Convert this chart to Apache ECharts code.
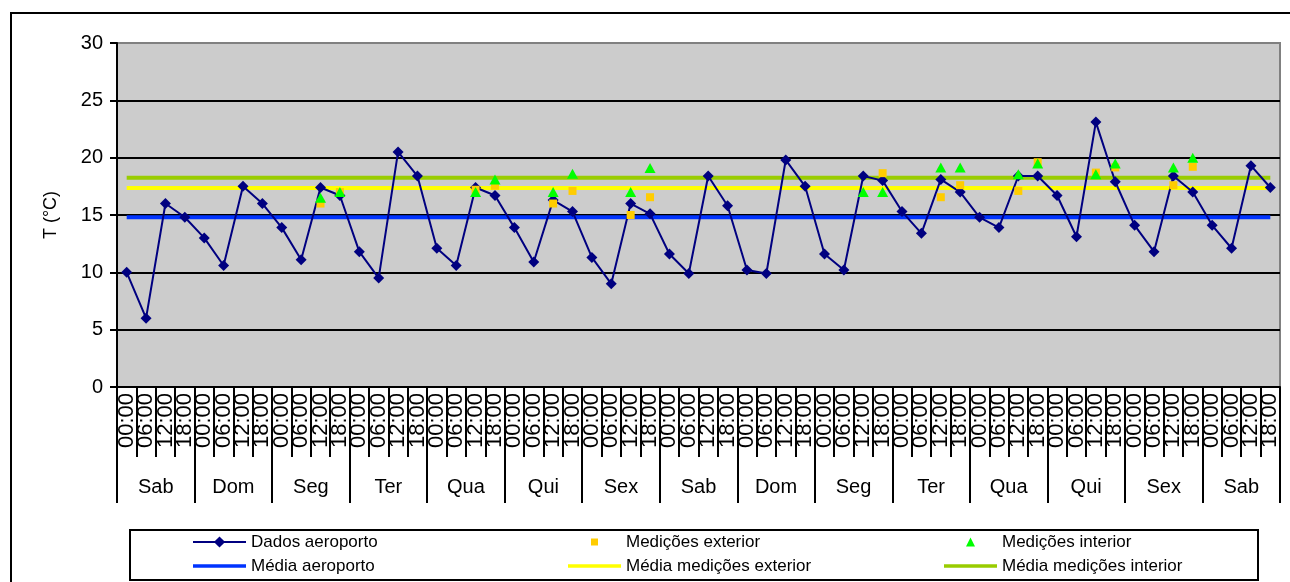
<!DOCTYPE html>
<html><head><meta charset="utf-8">
<script src="https://cdn.jsdelivr.net/npm/echarts@6/dist/echarts.min.js"></script>
<style>html,body{margin:0;padding:0;background:#fff}#c{width:1290px;height:582px}</style>
</head><body><div id="c"></div>
<script>
const days = ['Sab','Dom','Seg','Ter','Qua','Qui','Sex','Sab','Dom','Seg','Ter','Qua','Qui','Sex','Sab'];
const times = ['00:00','06:00','12:00','18:00'];
const yMin = 0, yMax = 30, yStep = 5;

const dadosAeroporto = [
  10.0, 6.0, 16.0, 14.8,   13.0, 10.6, 17.5, 16.0,   13.9, 11.1, 17.4, 16.7,
  11.8, 9.5, 20.5, 18.4,   12.1, 10.6, 17.4, 16.7,   13.9, 10.9, 16.3, 15.3,
  11.3, 9.0, 16.0, 15.1,   11.6, 9.9, 18.4, 15.8,    10.2, 9.9, 19.8, 17.5,
  11.6, 10.2, 18.4, 18.0,  15.3, 13.4, 18.1, 17.0,   14.8, 13.9, 18.4, 18.4,
  16.7, 13.1, 23.1, 17.9,  14.1, 11.8, 18.4, 17.0,   14.1, 12.1, 19.3, 17.4
];
const medicoesExterior = [
  null, null, null, null,  null, null, null, null,  null, null, 16.0, 17.0,
  null, null, null, null,  null, null, 17.2, 17.55, null, null, 16.0, 17.1,
  null, null, 15.0, 16.55, null, null, null, null,  null, null, null, null,
  null, null, null, 18.65, null, null, 16.55, 17.6, null, null, 17.1, 19.6,
  null, null, 18.7, 19.15, null, null, 17.6, 19.2,  null, null, null, null
];
const medicoesInterior = [
  null, null, null, null,  null, null, null, null,  null, null, 16.5, 17.0,
  null, null, null, null,  null, null, 17.0, 18.1,  null, null, 17.0, 18.6,
  null, null, 17.0, 19.1,  null, null, null, null,  null, null, null, null,
  null, null, 17.0, 17.0,  null, null, 19.15, 19.15, null, null, 18.55, 19.5,
  null, null, 18.55, 19.5, null, null, 19.15, 20.0, null, null, null, null
];
const mediaAeroporto = 14.8;
const mediaExterior = 17.35;
const mediaInterior = 18.25;

const slotCats = [];
days.forEach((d, di) => times.forEach(t => slotCats.push(di + '|' + t)));
const dayCats = days.map((d, di) => di + '|' + d);
const lastIdx = slotCats.length - 1;

const FONT = '"Liberation Sans", Arial, sans-serif';
const chart = echarts.init(document.getElementById('c'), null, {renderer: 'canvas'});

const BAR_ICON = 'path://M0,0L53,0L53,3.5L0,3.5Z';
const legendBase = {
  orient: 'vertical', top: 532, height: 50, padding: 0,
  itemWidth: 53, itemHeight: 14, itemGap: 4,
  selectedMode: false,
  textStyle: {fontFamily: FONT, fontSize: 17, color: '#000', lineHeight: 20}
};

chart.setOption({
  animation: false,
  backgroundColor: '#fff',
  graphic: [
    {type: 'rect', shape: {x: 11, y: 13, width: 1300, height: 620}, style: {fill: 'none', stroke: '#000', lineWidth: 2}, z: 100},
    {type: 'rect', shape: {x: 130, y: 530, width: 1128, height: 50}, style: {fill: 'none', stroke: '#000', lineWidth: 2}, z: 100}
  ],
  legend: [
    Object.assign({}, legendBase, {left: 192, width: 360, data: [
      {name: 'Dados aeroporto'},
      {name: 'Média aeroporto', icon: BAR_ICON}]}),
    Object.assign({}, legendBase, {left: 568, width: 360, data: [
      {name: 'Medições exterior', icon: 'path://M0,0M14,14M3.5,3.5L10.5,3.5L10.5,10.5L3.5,10.5Z'},
      {name: 'Média medições exterior', icon: BAR_ICON}]}),
    Object.assign({}, legendBase, {left: 944, width: 300, data: [
      {name: 'Medições interior', icon: 'path://M0,0M14,14M7,2.5L11.5,11.5L2.5,11.5Z'},
      {name: 'Média medições interior', icon: BAR_ICON}]})
  ],
  grid: {
    left: 117, right: 10, top: 43, bottom: 195,
    show: true, backgroundColor: '#CCCCCC', borderColor: '#808080', borderWidth: 2
  },
  xAxis: [
    {
      type: 'category', data: slotCats, boundaryGap: true, position: 'bottom',
      axisLine: {show: true, lineStyle: {color: '#000', width: 2}},
      axisTick: {show: true, interval: 0, length: 70, lineStyle: {color: '#000', width: 2}},
      axisLabel: {
        interval: 0, rotate: 90, margin: 6, fontFamily: FONT, fontSize: 22, color: '#000',
        formatter: v => v.split('|')[1]
      },
      splitLine: {show: false}
    },
    {
      type: 'category', data: dayCats, boundaryGap: true, position: 'bottom',
      axisLine: {show: false},
      axisTick: {show: true, interval: 0, length: 116, lineStyle: {color: '#000', width: 2}},
      axisLabel: {
        interval: 0, margin: 90, fontFamily: FONT, fontSize: 20, color: '#000',
        formatter: v => v.split('|')[1]
      },
      splitLine: {show: false}
    }
  ],
  yAxis: {
    type: 'value', min: yMin, max: yMax, interval: yStep,
    name: 'T (°C)', nameLocation: 'middle', nameGap: 57, nameRotate: 90,
    nameTextStyle: {fontFamily: FONT, fontSize: 18, color: '#000'},
    axisLine: {show: true, lineStyle: {color: '#000', width: 2}},
    axisTick: {show: true, inside: false, length: 7, lineStyle: {color: '#000', width: 2}},
    axisLabel: {margin: 14, fontFamily: FONT, fontSize: 20, color: '#000'},
    splitLine: {show: true, lineStyle: {color: ['#000', '#000', '#000', '#000', '#000', '#000', '#808080'], width: 2}}
  },
  series: [
    {
      name: 'Dados aeroporto', type: 'line', data: dadosAeroporto, z: 5,
      symbol: 'diamond', symbolSize: 11, showAllSymbol: true,
      lineStyle: {color: '#000080', width: 2}, itemStyle: {color: '#000080'}
    },
    {
      name: 'Medições exterior', type: 'scatter', data: medicoesExterior, z: 6,
      symbol: 'rect', symbolSize: 8, itemStyle: {color: '#FFCC00', opacity: 1}
    },
    {
      name: 'Medições interior', type: 'scatter', data: medicoesInterior, z: 7,
      symbol: 'triangle', symbolSize: [11, 10], itemStyle: {color: '#00FF00', opacity: 1}
    },
    {
      name: 'Média aeroporto', type: 'line', z: 3, symbol: 'none',
      data: [[0, mediaAeroporto], [lastIdx, mediaAeroporto]],
      lineStyle: {color: '#0033FF', width: 4}, itemStyle: {color: '#0033FF'}
    },
    {
      name: 'Média medições exterior', type: 'line', z: 3, symbol: 'none',
      data: [[0, mediaExterior], [lastIdx, mediaExterior]],
      lineStyle: {color: '#FFFF00', width: 4}, itemStyle: {color: '#FFFF00'}
    },
    {
      name: 'Média medições interior', type: 'line', z: 3, symbol: 'none',
      data: [[0, mediaInterior], [lastIdx, mediaInterior]],
      lineStyle: {color: '#99CC00', width: 4}, itemStyle: {color: '#99CC00'}
    }
  ]
});
</script>
</body></html>
